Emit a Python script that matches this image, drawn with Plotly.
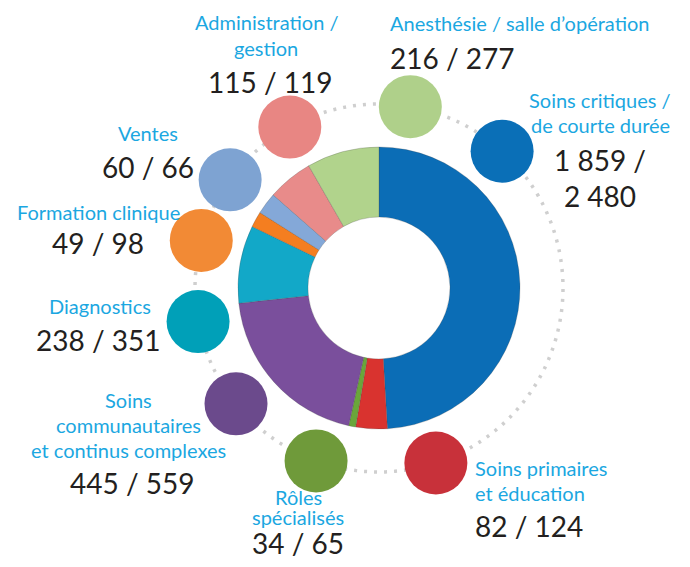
import plotly.graph_objects as go
import numpy as np

# categories, clockwise from the top of the ring
categories = ["Soins critiques / de courte durée", "Soins primaires et éducation",
              "Rôles spécialisés", "Soins communautaires et continus complexes",
              "Diagnostics", "Formation clinique", "Ventes",
              "Administration / gestion", "Anesthésie / salle d'opération"]
first_vals = ["1 859", "82", "34", "445", "238", "49", "60", "115", "216"]
second_vals = ["2 480", "124", "65", "559", "351", "98", "66", "119", "277"]
# slice sizes as drawn in the ring (percent)
slice_share = [49.0, 3.6, 0.8, 19.8, 8.9, 1.8, 2.5, 5.2, 8.3]

ring_colors = ["#0b6db6", "#d9332f", "#6aa63a", "#7a4f9c", "#12a8c8",
               "#f47e20", "#84a8d8", "#e88b8a", "#b1d38c"]
bubble_colors = ["#0a6fb7", "#c8313a", "#6f9a3a", "#6b4a8c", "#00a0b8",
                 "#f28a35", "#7ea3d2", "#e88683", "#afd08a"]
bubble_angle = [42, 162, 200, 231, 259.5, 285, 306, 331, 9.8]

# page body has an 8px margin, so the figure is offset inside the window
OX, OY = 8, 8
FW, FH = 674, 551
CX, CY, R = 379, 288, 240


def px(x, y):
    return (x - OX) / FW, 1 - (y - OY) / FH


deg = np.array(slice_share) / sum(slice_share) * 360
mid = np.cumsum(deg) - deg / 2

fig = go.Figure()

# dotted guide circle
t = np.linspace(0, 360, 361)
fig.add_trace(go.Scatterpolar(r=[184] * len(t), theta=t, mode="lines",
                              line=dict(color="#cfcfcf", width=3.5, dash="3px,7px"),
                              hoverinfo="skip"))

# donut
fig.add_trace(go.Barpolar(r=[70] * len(deg), theta=mid, width=deg, base=71,
                          marker=dict(color=ring_colors,
                                      line=dict(color="rgba(70,70,70,0.35)", width=0.7)),
                          hovertext=categories, hoverinfo="text"))

# bubbles
fig.add_trace(go.Scatterpolar(r=[184] * len(bubble_angle), theta=bubble_angle, mode="markers",
                              marker=dict(size=63, color=bubble_colors, line=dict(width=0)),
                              hovertext=categories, hoverinfo="text"))

x0, y1 = px(CX - R, CY - R)
x1, y0 = px(CX + R, CY + R)
fig.update_layout(
    width=FW, height=FH, margin=dict(l=0, r=0, t=0, b=0),
    paper_bgcolor="white", showlegend=False,
    polar=dict(
        domain=dict(x=[x0, x1], y=[y0, y1]),
        bgcolor="rgba(0,0,0,0)", hole=0,
        radialaxis=dict(range=[0, R], visible=False),
        angularaxis=dict(visible=False, rotation=90, direction="clockwise"),
    ),
    font=dict(family="Lato, sans-serif"),
)

# label placement (window pixel coords): one entry per text line of each name
name_lines = [["Soins critiques /", "de courte durée"], ["Soins primaires", "et éducation"],
              ["Rôles", "spécialisés"], ["Soins", "communautaires", "et continus complexes"],
              ["Diagnostics"], ["Formation clinique"], ["Ventes"],
              ["Administration /", "gestion"], ["Anesthésie / salle d’opération"]]
name_pos = [(600, 100, 25), (473, 468, 25), (298, 497, 20), (128, 400, 25), (100, 306, 25),
            (98, 212, 25), (148, 133, 25), (266, 22, 26), (388, 23, 25)]
num_pos = [(600, 178), (473, 526), (298, 562), (132, 483), (98, 340),
           (98, 243), (148, 167), (270, 82), (388, 58)]
num_yanchor = ["middle", "middle", "bottom", "middle", "middle",
               "middle", "middle", "middle", "middle"]
anchors = ["center", "left", "center", "center", "center",
           "center", "center", "center", "left"]

for i in range(len(categories)):
    if i == 0:
        num = first_vals[i] + " /<br>" + second_vals[i]
    else:
        num = first_vals[i] + " / " + second_vals[i]
    lx, ly, step = name_pos[i]
    for k, line in enumerate(name_lines[i]):
        nx, ny = px(lx, ly + k * step)
        fig.add_annotation(text=line, x=nx, y=ny,
                           xref="paper", yref="paper", xanchor=anchors[i], yanchor="middle",
                           showarrow=False, font=dict(size=20, color="#1ba7e1"))
    vx, vy = px(*num_pos[i])
    fig.add_annotation(text=num, x=vx, y=vy,
                       xref="paper", yref="paper", xanchor=anchors[i], yanchor=num_yanchor[i],
                       align="center", showarrow=False,
                       font=dict(size=28, color="#231f20"))

fig.write_html("out.html")
